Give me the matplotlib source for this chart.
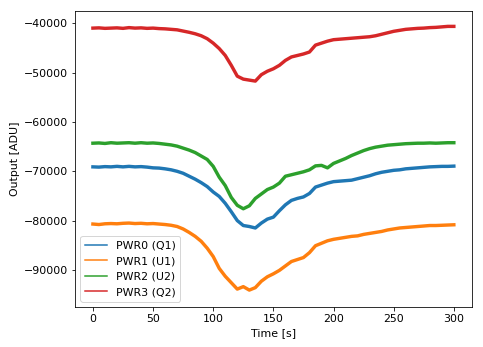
import numpy as np
import matplotlib
matplotlib.use("Agg")
import matplotlib.pyplot as plt

# time axis [s]
time_s = list(range(0, 301, 5))

# values (ADU)
pwr0_q1 = [-69100, -69150, -69050, -69100, -69000, -69100, -69000, -69100, -69050, -69150,
           -69300, -69350, -69500, -69700, -70000, -70400, -71000, -71600, -72300, -73100,
           -74200, -75100, -76500, -78200, -80000, -81000, -81200, -81500, -80500, -79700,
           -79300, -78000, -76800, -75900, -75500, -75200, -74500, -73200, -72800, -72400,
           -72100, -72000, -71900, -71800, -71500, -71200, -70900, -70500, -70200, -70000,
           -69800, -69700, -69500, -69400, -69300, -69200, -69100, -69050, -69000, -69000,
           -68950]
pwr1_u1 = [-80700, -80800, -80650, -80600, -80650, -80550, -80500, -80600, -80550, -80650,
           -80600, -80700, -80800, -80950, -81200, -81700, -82400, -83200, -84200, -85600,
           -87300, -89700, -91300, -92600, -93900, -93400, -94100, -93600, -92300, -91400,
           -90800, -90100, -89200, -88300, -87900, -87500, -86500, -85100, -84600, -84100,
           -83800, -83600, -83400, -83200, -83100, -82800, -82600, -82400, -82200, -81900,
           -81700, -81500, -81400, -81300, -81200, -81100, -81000, -81000, -80950, -80900,
           -80850]
pwr2_u2 = [-64300, -64250, -64350, -64200, -64300, -64250, -64200, -64300, -64200, -64300,
           -64250, -64350, -64500, -64650, -64900, -65300, -65700, -66200, -66900, -67600,
           -69000, -71200, -72900, -75300, -76900, -77600, -77000, -75500, -74600, -73700,
           -73200, -72400, -71000, -70700, -70400, -70100, -69700, -68900, -68800, -69300,
           -68400, -67900, -67400, -66800, -66300, -65800, -65400, -65100, -64900, -64700,
           -64600, -64500, -64400, -64350, -64300, -64300, -64250, -64300, -64250, -64200,
           -64200]
pwr3_q2 = [-40950, -40900, -41000, -40950, -40900, -41000, -40850, -40950, -40900, -41000,
           -40950, -41050, -41100, -41200, -41300, -41550, -41800, -42100, -42500, -43100,
           -44000, -45100, -46500, -48500, -50700, -51300, -51500, -51700, -50400, -49700,
           -49200, -48500, -47500, -46800, -46500, -46200, -45800, -44400, -44000, -43600,
           -43300, -43200, -43100, -43000, -42900, -42800, -42700, -42500, -42200, -41900,
           -41600, -41400, -41200, -41100, -41000, -40950, -40850, -40800, -40700, -40600,
           -40600]

labels = ["PWR0 (Q1)", "PWR1 (U1)", "PWR2 (U2)", "PWR3 (Q2)"]
series = [pwr0_q1, pwr1_u1, pwr2_u2, pwr3_q2]
colors = ["#1f77b4", "#ff7f0e", "#2ca02c", "#d62728"]

plt.rcParams["font.size"] = 11

fig = plt.figure(figsize=(483 / 72, 347 / 72), dpi=72)
ax = fig.add_axes([0.155, 0.115, 0.822, 0.853])

for vals, lab, col in zip(series, labels, colors):
    ax.plot(time_s, vals, color=col, linewidth=3.4, label=lab)

ax.set_xlim(-15, 315)
ax.set_ylim(-97550, -37500)
ax.set_xticks([0, 50, 100, 150, 200, 250, 300])
ax.set_yticks([-90000, -80000, -70000, -60000, -50000, -40000])
ax.set_xlabel("Time [s]")
ax.set_ylabel("Output [ADU]")

leg = ax.legend(loc="lower left")
for line in leg.get_lines():
    line.set_linewidth(1.5)

fig.savefig("out.png", dpi=72)
